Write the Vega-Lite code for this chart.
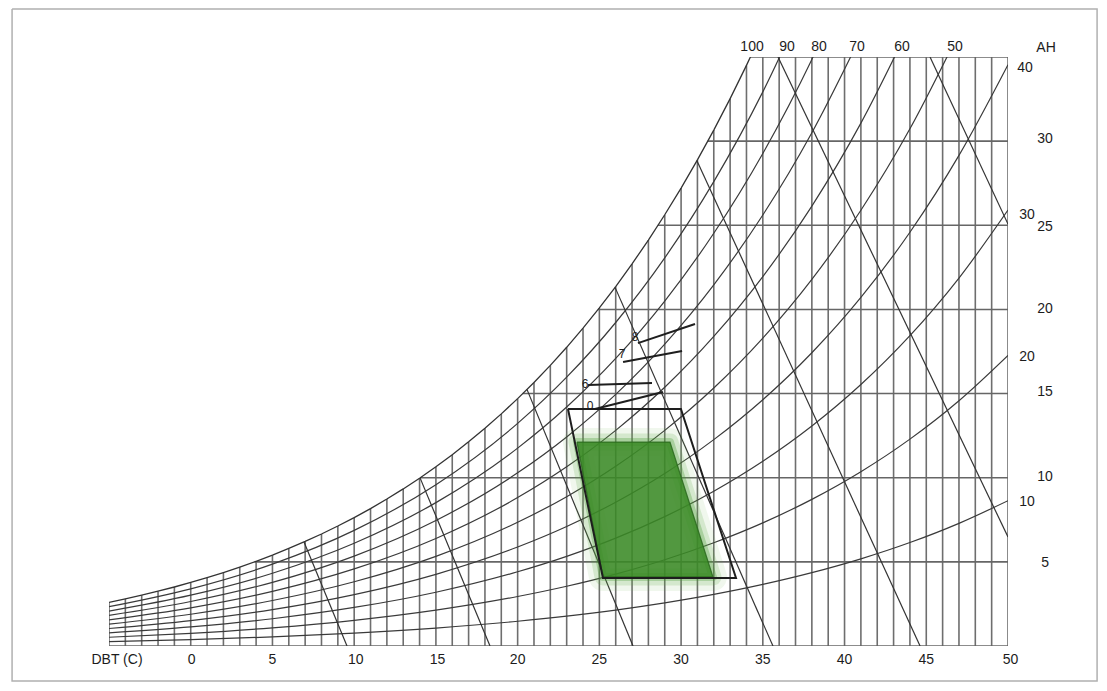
{
  "$schema": "https://vega.github.io/schema/vega-lite/v6.json",
  "width": 899,
  "height": 589,
  "autosize": {"type": "none"},
  "padding": {"left": 109, "top": 57, "right": 99, "bottom": 45},
  "background": "white",
  "config": {"view": {"stroke": null}},
  "datasets": {
    "sat": [
      {"t": -5, "w": 2.595}, {"t": -4, "w": 2.806}, {"t": -3, "w": 3.023}, {"t": -2, "w": 3.258}, {"t": -1, "w": 3.506},
      {"t": 0, "w": 3.775}, {"t": 1, "w": 4.060}, {"t": 2, "w": 4.364}, {"t": 3, "w": 4.689}, {"t": 4, "w": 5.035},
      {"t": 5, "w": 5.403}, {"t": 6, "w": 5.796}, {"t": 7, "w": 6.213}, {"t": 8, "w": 6.657}, {"t": 9, "w": 7.129},
      {"t": 10, "w": 7.632}, {"t": 11, "w": 8.165}, {"t": 12, "w": 8.732}, {"t": 13, "w": 9.334}, {"t": 14, "w": 9.972},
      {"t": 15, "w": 10.650}, {"t": 16, "w": 11.369}, {"t": 17, "w": 12.131}, {"t": 18, "w": 12.938}, {"t": 19, "w": 13.794},
      {"t": 20, "w": 14.699}, {"t": 21, "w": 15.659}, {"t": 22, "w": 16.674}, {"t": 23, "w": 17.749}, {"t": 24, "w": 18.885},
      {"t": 25, "w": 20.088}, {"t": 26, "w": 21.359}, {"t": 27, "w": 22.703}, {"t": 28, "w": 24.124}, {"t": 29, "w": 25.625},
      {"t": 30, "w": 27.211}, {"t": 31, "w": 28.887}, {"t": 32, "w": 30.658}, {"t": 33, "w": 32.527}, {"t": 34, "w": 34.502},
      {"t": 35, "w": 36.587}, {"t": 36, "w": 38.789}, {"t": 37, "w": 41.114}, {"t": 38, "w": 43.569}, {"t": 39, "w": 46.161},
      {"t": 40, "w": 48.897}, {"t": 41, "w": 51.787}, {"t": 42, "w": 54.840}, {"t": 43, "w": 58.061}, {"t": 44, "w": 61.466},
      {"t": 45, "w": 65.062}, {"t": 46, "w": 68.857}, {"t": 47, "w": 72.879}, {"t": 48, "w": 77.118}, {"t": 49, "w": 81.607},
      {"t": 50, "w": 86.351}
    ],
    "rh": [
      {"r": 90, "t": -5, "w": 2.336}, {"r": 90, "t": 0, "w": 3.398}, {"r": 90, "t": 5, "w": 4.863}, {"r": 90, "t": 10, "w": 6.869}, {"r": 90, "t": 15, "w": 9.585}, {"r": 90, "t": 20, "w": 13.229}, {"r": 90, "t": 23, "w": 15.974}, {"r": 90, "t": 26, "w": 19.223}, {"r": 90, "t": 29, "w": 23.063}, {"r": 90, "t": 32, "w": 27.592}, {"r": 90, "t": 35, "w": 32.928}, {"r": 90, "t": 38, "w": 39.212},
      {"r": 80, "t": -5, "w": 2.076}, {"r": 80, "t": 0, "w": 3.020}, {"r": 80, "t": 5, "w": 4.322}, {"r": 80, "t": 10, "w": 6.106}, {"r": 80, "t": 15, "w": 8.520}, {"r": 80, "t": 20, "w": 11.759}, {"r": 80, "t": 23, "w": 14.199}, {"r": 80, "t": 26, "w": 17.087}, {"r": 80, "t": 29, "w": 20.500}, {"r": 80, "t": 32, "w": 24.526}, {"r": 80, "t": 35, "w": 29.270}, {"r": 80, "t": 38, "w": 34.855}, {"r": 80, "t": 41, "w": 41.430},
      {"r": 70, "t": -5, "w": 1.817}, {"r": 70, "t": 0, "w": 2.643}, {"r": 70, "t": 5, "w": 3.782}, {"r": 70, "t": 10, "w": 5.342}, {"r": 70, "t": 15, "w": 7.455}, {"r": 70, "t": 20, "w": 10.289}, {"r": 70, "t": 23, "w": 12.424}, {"r": 70, "t": 26, "w": 14.951}, {"r": 70, "t": 29, "w": 17.938}, {"r": 70, "t": 32, "w": 21.461}, {"r": 70, "t": 35, "w": 25.611}, {"r": 70, "t": 38, "w": 30.498}, {"r": 70, "t": 41, "w": 36.251},
      {"r": 60, "t": -5, "w": 1.557}, {"r": 60, "t": 0, "w": 2.265}, {"r": 60, "t": 5, "w": 3.242}, {"r": 60, "t": 10, "w": 4.579}, {"r": 60, "t": 15, "w": 6.390}, {"r": 60, "t": 20, "w": 8.819}, {"r": 60, "t": 23, "w": 10.649}, {"r": 60, "t": 26, "w": 12.815}, {"r": 60, "t": 29, "w": 15.375}, {"r": 60, "t": 32, "w": 18.395}, {"r": 60, "t": 35, "w": 21.952}, {"r": 60, "t": 38, "w": 26.141}, {"r": 60, "t": 41, "w": 31.072}, {"r": 60, "t": 44, "w": 36.880},
      {"r": 50, "t": -5, "w": 1.298}, {"r": 50, "t": 0, "w": 1.888}, {"r": 50, "t": 5, "w": 2.702}, {"r": 50, "t": 10, "w": 3.816}, {"r": 50, "t": 15, "w": 5.325}, {"r": 50, "t": 20, "w": 7.350}, {"r": 50, "t": 23, "w": 8.875}, {"r": 50, "t": 26, "w": 10.680}, {"r": 50, "t": 29, "w": 12.813}, {"r": 50, "t": 32, "w": 15.329}, {"r": 50, "t": 35, "w": 18.294}, {"r": 50, "t": 38, "w": 21.785}, {"r": 50, "t": 41, "w": 25.894}, {"r": 50, "t": 44, "w": 30.733}, {"r": 50, "t": 47, "w": 36.440},
      {"r": 40, "t": -5, "w": 1.038}, {"r": 40, "t": 0, "w": 1.510}, {"r": 40, "t": 5, "w": 2.161}, {"r": 40, "t": 10, "w": 3.053}, {"r": 40, "t": 15, "w": 4.260}, {"r": 40, "t": 20, "w": 5.880}, {"r": 40, "t": 23, "w": 7.100}, {"r": 40, "t": 26, "w": 8.544}, {"r": 40, "t": 29, "w": 10.250}, {"r": 40, "t": 32, "w": 12.263}, {"r": 40, "t": 35, "w": 14.635}, {"r": 40, "t": 38, "w": 17.428}, {"r": 40, "t": 41, "w": 20.715}, {"r": 40, "t": 44, "w": 24.586}, {"r": 40, "t": 47, "w": 29.152}, {"r": 40, "t": 50, "w": 34.540},
      {"r": 30, "t": -5, "w": 0.779}, {"r": 30, "t": 0, "w": 1.133}, {"r": 30, "t": 5, "w": 1.621}, {"r": 30, "t": 10, "w": 2.290}, {"r": 30, "t": 15, "w": 3.195}, {"r": 30, "t": 20, "w": 4.410}, {"r": 30, "t": 23, "w": 5.325}, {"r": 30, "t": 26, "w": 6.408}, {"r": 30, "t": 29, "w": 7.688}, {"r": 30, "t": 32, "w": 9.197}, {"r": 30, "t": 35, "w": 10.976}, {"r": 30, "t": 38, "w": 13.071}, {"r": 30, "t": 41, "w": 15.536}, {"r": 30, "t": 44, "w": 18.440}, {"r": 30, "t": 47, "w": 21.864}, {"r": 30, "t": 50, "w": 25.905},
      {"r": 20, "t": -5, "w": 0.519}, {"r": 20, "t": 0, "w": 0.755}, {"r": 20, "t": 5, "w": 1.081}, {"r": 20, "t": 10, "w": 1.526}, {"r": 20, "t": 15, "w": 2.130}, {"r": 20, "t": 20, "w": 2.940}, {"r": 20, "t": 23, "w": 3.550}, {"r": 20, "t": 26, "w": 4.272}, {"r": 20, "t": 29, "w": 5.125}, {"r": 20, "t": 32, "w": 6.132}, {"r": 20, "t": 35, "w": 7.317}, {"r": 20, "t": 38, "w": 8.714}, {"r": 20, "t": 41, "w": 10.357}, {"r": 20, "t": 44, "w": 12.293}, {"r": 20, "t": 47, "w": 14.576}, {"r": 20, "t": 50, "w": 17.270},
      {"r": 10, "t": -5, "w": 0.260}, {"r": 10, "t": 0, "w": 0.378}, {"r": 10, "t": 5, "w": 0.540}, {"r": 10, "t": 10, "w": 0.763}, {"r": 10, "t": 15, "w": 1.065}, {"r": 10, "t": 20, "w": 1.470}, {"r": 10, "t": 23, "w": 1.775}, {"r": 10, "t": 26, "w": 2.136}, {"r": 10, "t": 29, "w": 2.563}, {"r": 10, "t": 32, "w": 3.066}, {"r": 10, "t": 35, "w": 3.659}, {"r": 10, "t": 38, "w": 4.357}, {"r": 10, "t": 41, "w": 5.179}, {"r": 10, "t": 44, "w": 6.147}, {"r": 10, "t": 47, "w": 7.288}, {"r": 10, "t": 50, "w": 8.635}
    ],
    "hlines": [
      {"w": 0, "t1": -5, "t2": 50}, {"w": 5, "t1": 3.90, "t2": 50}, {"w": 10, "t1": 14.04, "t2": 50},
      {"w": 15, "t1": 20.31, "t2": 50}, {"w": 20, "t1": 24.93, "t2": 50}, {"w": 25, "t1": 28.58, "t2": 50},
      {"w": 30, "t1": 31.63, "t2": 50}, {"w": 35, "t1": 34.24, "t2": 50}
    ],
    "diag": [
      {"id": 1, "t": 6.93, "w": 6.18}, {"id": 1, "t": 9.56, "w": 0},
      {"id": 2, "t": 14.03, "w": 9.99}, {"id": 2, "t": 18.31, "w": 0},
      {"id": 3, "t": 20.57, "w": 15.25}, {"id": 3, "t": 27.06, "w": 0},
      {"id": 4, "t": 25.96, "w": 21.31}, {"id": 4, "t": 35.62, "w": 0},
      {"id": 5, "t": 30.97, "w": 28.84}, {"id": 5, "t": 44.62, "w": 0},
      {"id": 6, "t": 35.93, "w": 35}, {"id": 6, "t": 50, "w": 6.48},
      {"id": 7, "t": 45.23, "w": 35}, {"id": 7, "t": 50, "w": 25.07}
    ],
    "zone": [
      {"o": 1, "t": 23.08, "w": 14.08}, {"o": 2, "t": 29.99, "w": 14.08}, {"o": 3, "t": 33.36, "w": 4.04},
      {"o": 4, "t": 25.22, "w": 4.04}, {"o": 5, "t": 23.08, "w": 14.08}
    ],
    "gpoly": [
      {"o": 1, "t": 23.63, "w": 12.12}, {"o": 2, "t": 29.32, "w": 12.12}, {"o": 3, "t": 31.95, "w": 4.10},
      {"o": 4, "t": 25.22, "w": 4.10}, {"o": 5, "t": 23.63, "w": 12.12}
    ],
    "gfill": [
      {"w": 4.10, "t1": 25.22, "t2": 31.95}, {"w": 12.12, "t1": 23.63, "t2": 29.32}
    ],
    "ann": [
      {"id": "8", "t": 27.36, "w": 18.00}, {"id": "8", "t": 30.85, "w": 19.13},
      {"id": "7", "t": 26.45, "w": 16.87}, {"id": "7", "t": 30.06, "w": 17.53},
      {"id": "6", "t": 24.31, "w": 15.51}, {"id": "6", "t": 28.22, "w": 15.63},
      {"id": "0", "t": 24.73, "w": 14.08}, {"id": "0", "t": 28.89, "w": 15.09}
    ],
    "labels": [
      {"t": 34.34, "w": 35.59, "s": "100"}, {"t": 36.48, "w": 35.59, "s": "90"}, {"t": 38.44, "w": 35.59, "s": "80"},
      {"t": 40.76, "w": 35.59, "s": "70"}, {"t": 43.52, "w": 35.59, "s": "60"}, {"t": 46.76, "w": 35.59, "s": "50"},
      {"t": 51.04, "w": 34.34, "s": "40"}, {"t": 52.33, "w": 35.53, "s": "AH"},
      {"t": 52.27, "w": 30.12, "s": "30"}, {"t": 51.16, "w": 25.61, "s": "30"}, {"t": 52.27, "w": 24.90, "s": "25"},
      {"t": 52.27, "w": 20.02, "s": "20"}, {"t": 51.16, "w": 17.17, "s": "20"}, {"t": 52.27, "w": 15.09, "s": "15"},
      {"t": 52.27, "w": 10.04, "s": "10"}, {"t": 51.16, "w": 8.56, "s": "10"}, {"t": 52.27, "w": 4.93, "s": "5"},
      {"t": -4.51, "w": -0.83, "s": "DBT (C)"}, {"t": 0.05, "w": -0.83, "s": "0"}, {"t": 5, "w": -0.83, "s": "5"},
      {"t": 10.1, "w": -0.83, "s": "10"}, {"t": 15.1, "w": -0.83, "s": "15"}, {"t": 20, "w": -0.83, "s": "20"},
      {"t": 25, "w": -0.83, "s": "25"}, {"t": 30, "w": -0.83, "s": "30"}, {"t": 35, "w": -0.83, "s": "35"},
      {"t": 40, "w": -0.83, "s": "40"}, {"t": 45, "w": -0.83, "s": "45"}, {"t": 50.15, "w": -0.83, "s": "50"}
    ],
    "annlabels": [
      {"t": 27.18, "w": 18.36, "s": "8"}, {"t": 26.39, "w": 17.35, "s": "7"},
      {"t": 24.12, "w": 15.57, "s": "6"}, {"t": 24.43, "w": 14.26, "s": "0"}
    ],
    "frame": [
      {"o": 1, "t": -10.93, "w": 37.85}, {"o": 2, "t": 55.45, "w": 37.85}, {"o": 3, "t": 55.45, "w": -2.08},
      {"o": 4, "t": -10.93, "w": -2.08}, {"o": 5, "t": -10.93, "w": 37.85}
    ]
  },
  "encoding": {
    "x": {"field": "t", "type": "quantitative", "scale": {"domain": [-5, 50], "nice": false, "zero": false}, "axis": null},
    "y": {"field": "w", "type": "quantitative", "scale": {"domain": [0, 35], "nice": false, "zero": false}, "axis": null}
  },
  "layer": [
    {
      "data": {"name": "frame"},
      "mark": {"type": "line", "stroke": "#b0b0b0", "strokeWidth": 1.5},
      "encoding": {"order": {"field": "o", "type": "quantitative"}}
    },
    {
      "data": {"name": "sat"},
      "mark": {"type": "rule", "clip": true, "stroke": "#6e6e6e", "strokeWidth": 1.6},
      "encoding": {
        "y": {"datum": 0, "type": "quantitative", "scale": {"domain": [0, 35], "nice": false, "zero": false}, "axis": null},
        "y2": {"field": "w"}
      }
    },
    {
      "data": {"name": "hlines"},
      "mark": {"type": "rule", "clip": true, "stroke": "#666666", "strokeWidth": 1.6},
      "encoding": {
        "x": {"field": "t1", "type": "quantitative", "scale": {"domain": [-5, 50], "nice": false, "zero": false}, "axis": null},
        "x2": {"field": "t2"}
      }
    },
    {
      "data": {"name": "rh"},
      "mark": {"type": "line", "clip": true, "interpolate": "monotone", "stroke": "#3a3a3a", "strokeWidth": 1.2},
      "encoding": {"detail": {"field": "r", "type": "nominal"}}
    },
    {
      "data": {"name": "sat"},
      "mark": {"type": "line", "clip": true, "stroke": "#333333", "strokeWidth": 1.3},
      "encoding": {}
    },
    {
      "data": {"name": "diag"},
      "mark": {"type": "line", "clip": true, "stroke": "#333333", "strokeWidth": 1.2},
      "encoding": {"detail": {"field": "id", "type": "nominal"}}
    },
    {
      "data": {"name": "gpoly"},
      "mark": {"type": "line", "stroke": "#6ab552", "strokeWidth": 28, "opacity": 0.1, "strokeJoin": "round", "strokeCap": "round"},
      "encoding": {"order": {"field": "o", "type": "quantitative"}}
    },
    {
      "data": {"name": "gpoly"},
      "mark": {"type": "line", "stroke": "#56a63f", "strokeWidth": 17, "opacity": 0.18, "strokeJoin": "round", "strokeCap": "round"},
      "encoding": {"order": {"field": "o", "type": "quantitative"}}
    },
    {
      "data": {"name": "gpoly"},
      "mark": {"type": "line", "stroke": "#459833", "strokeWidth": 8, "opacity": 0.3, "strokeJoin": "round", "strokeCap": "round"},
      "encoding": {"order": {"field": "o", "type": "quantitative"}}
    },
    {
      "data": {"name": "gfill"},
      "mark": {"type": "area", "orient": "horizontal", "fill": "#3a8a26", "opacity": 0.88},
      "encoding": {
        "x": {"field": "t1", "type": "quantitative", "scale": {"domain": [-5, 50], "nice": false, "zero": false}, "axis": null},
        "x2": {"field": "t2"}
      }
    },
    {
      "data": {"name": "gpoly"},
      "mark": {"type": "line", "stroke": "#2c6a1e", "strokeWidth": 1.3, "opacity": 0.85},
      "encoding": {"order": {"field": "o", "type": "quantitative"}}
    },
    {
      "data": {"name": "zone"},
      "mark": {"type": "line", "stroke": "#1e1e1e", "strokeWidth": 2},
      "encoding": {"order": {"field": "o", "type": "quantitative"}}
    },
    {
      "data": {"name": "ann"},
      "mark": {"type": "line", "stroke": "#1e1e1e", "strokeWidth": 2},
      "encoding": {"detail": {"field": "id", "type": "nominal"}}
    },
    {
      "data": {"name": "labels"},
      "mark": {"type": "text", "font": "Liberation Sans", "fontSize": 14, "fill": "#1c1c1c", "align": "center", "baseline": "middle"},
      "encoding": {"text": {"field": "s", "type": "nominal"}}
    },
    {
      "data": {"name": "annlabels"},
      "mark": {"type": "text", "font": "Liberation Sans", "fontSize": 12, "fill": "#1c1c1c", "align": "center", "baseline": "middle"},
      "encoding": {"text": {"field": "s", "type": "nominal"}}
    }
  ]
}
